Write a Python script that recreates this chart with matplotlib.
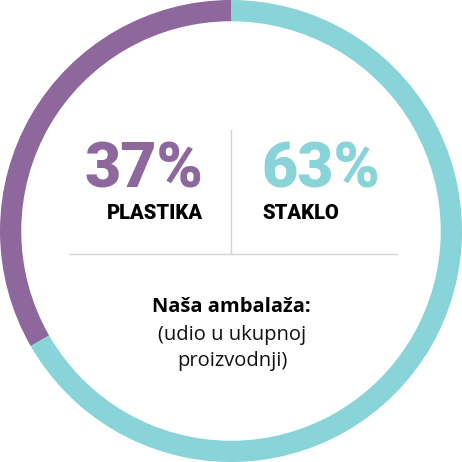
import matplotlib
matplotlib.use('Agg')
import matplotlib.pyplot as plt

labels = ['PLASTIKA', 'STAKLO']
percent_labels = [37, 63]
# shares as drawn by the ring in the picture (arc ends near 210 deg)
arc_share = [33.3, 66.7]
colors = ['#8e679c', '#88d4d8']

title_bold = 'Naša ambalaža:'
title_rest = ['(udio u ukupnoj', 'proizvodnji)']

W = 462
fig = plt.figure(figsize=(4.62, 4.62), dpi=100)
ax = fig.add_axes([0, 0, 1, 1])
ax.pie(arc_share, colors=colors, startangle=90, counterclock=True,
       radius=1.0, wedgeprops=dict(width=0.092, linewidth=0))
ax.set_xlim(-1.0, 1.0)
ax.set_ylim(-1.0, 1.0)
ax.set_aspect('equal')
ax.axis('off')


def fx(px):
    return px / W


def fy(py):
    return 1 - py / W


# divider lines
fig.add_artist(plt.Line2D([fx(231), fx(231)], [fy(130), fy(253)],
                          color='#d4d4d4', lw=1))
fig.add_artist(plt.Line2D([fx(69), fx(397)], [fy(254), fy(254)],
                          color='#d4d4d4', lw=1))

big = dict(family='Roboto', weight='black', fontsize=45)
fig.text(fx(203), fy(187), f'{percent_labels[0]}%', color=colors[0],
         ha='right', va='baseline', **big)
fig.text(fx(261), fy(187), f'{percent_labels[1]}%', color=colors[1],
         ha='left', va='baseline', **big)

small = dict(family='Roboto', weight='black', fontsize=14.5, color='black')
fig.text(fx(203), fy(219), labels[0], ha='right', va='baseline', **small)
fig.text(fx(262), fy(219), labels[1], ha='left', va='baseline', **small)

fig.text(fx(231), fy(312), title_bold, ha='center', va='baseline',
         family='Open Sans', weight='bold', fontsize=14.5, color='black')
for i, line in enumerate(title_rest):
    fig.text(fx(232), fy(340 + 26 * i), line, ha='center', va='baseline',
             family='Open Sans', fontsize=14.5, color='#111111')

fig.savefig('out.png', dpi=100, facecolor='white')
